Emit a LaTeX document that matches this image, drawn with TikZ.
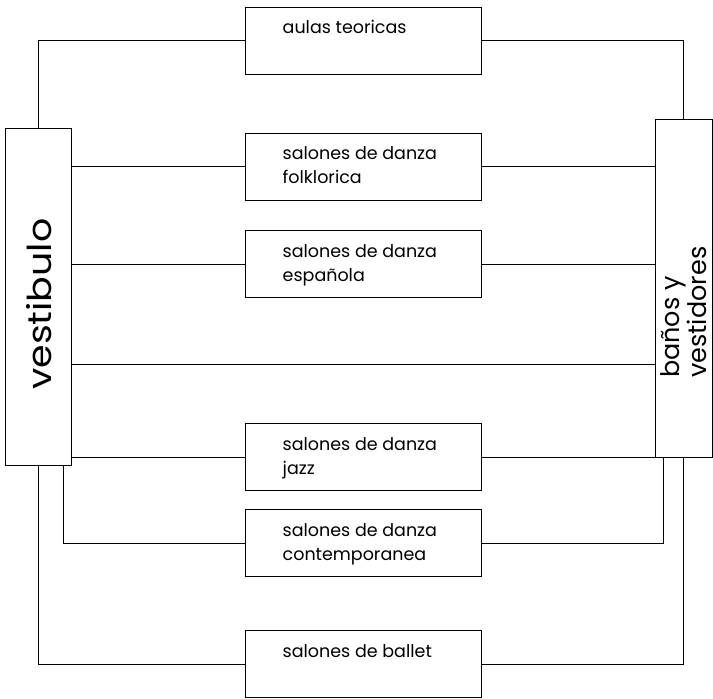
\documentclass[tikz,border=0pt]{standalone}
\usepackage{fontspec}
\setmainfont{Poppins}
\newfontfamily\widegothic[FakeStretch=1.15]{Poppins}
\begin{document}
\begin{tikzpicture}[x=1pt,y=-1pt,
  wall/.style={draw=black, line width=1pt},
  room/.style={wall, rectangle, inner sep=0pt, minimum width=236pt, minimum height=67pt},
  roomtext/.style={anchor=base west, align=left, inner sep=0pt, font=\fontsize{17.5}{24}\selectfont},
  link/.style={draw=black, line width=1pt}]
\useasboundingbox (0,0) rectangle (713,699);

% side blocks
\node[wall, rectangle, inner sep=0pt, minimum width=65.5pt, minimum height=337pt] (vest) at (38.25,296.5) {};
\node[wall, rectangle, inner sep=0pt, minimum width=57.5pt, minimum height=338pt] (bano) at (683.75,288) {};
\node[rotate=90, anchor=base west, inner sep=0pt, font=\widegothic\fontsize{33}{40}\selectfont] (vestt) at (52,390) {vestibulo};
\node[rotate=90, anchor=base west, align=left, inner sep=0pt, font=\fontsize{25.5}{24}\selectfont] (banot) at (706,378) {baños y\\vestidores};

% central rooms
\node[room] (aulas)  at (363,40.5) {};
\node[room] (folk)   at (363,166.5) {};
\node[room] (esp)    at (363,264) {};
\node[room] (jazz)   at (363,457) {};
\node[room] (cont)   at (363,543) {};
\node[room] (ballet) at (363,664) {};

% room names (single lines: baseline 27 below the top, two lines: last baseline 51 below)
\node[roomtext] (aulast)  at ([shift={(38,27)}]aulas.north west)  {aulas teoricas};
\node[roomtext] (folkt)   at ([shift={(38,51)}]folk.north west)   {salones de danza\\folklorica};
\node[roomtext] (espt)    at ([shift={(38,51)}]esp.north west)    {salones de danza\\española};
\node[roomtext] (jazzt)   at ([shift={(38,51)}]jazz.north west)   {salones de danza\\jazz};
\node[roomtext] (contt)   at ([shift={(38,51)}]cont.north west)   {salones de danza\\contemporanea};
\node[roomtext] (ballett) at ([shift={(38,27)}]ballet.north west) {salones de ballet};

% connectors
\coordinate (mid) at (0,364);
\draw[link] (vest.north) |- (aulas.west);
\draw[link] (aulas.east) -| (bano.north);
\draw[link] (vest.east |- folk.west) -- (folk.west);
\draw[link] (folk.east) -- (folk.east -| bano.west);
\draw[link] (vest.east |- esp.west) -- (esp.west);
\draw[link] (esp.east) -- (esp.east -| bano.west);
\draw[link] (vest.east |- mid) -- (bano.west |- mid);
\draw[link] (vest.east |- jazz.west) -- (jazz.west);
\draw[link] (jazz.east) -- (jazz.east -| bano.west);
\draw[link] ([xshift=-8pt]vest.south east) |- (cont.west);
\draw[link] (cont.east) -| ([xshift=9pt]bano.south west);
\draw[link] (vest.south) |- (ballet.west);
\draw[link] (ballet.east) -| (bano.south);
\end{tikzpicture}
\end{document}
